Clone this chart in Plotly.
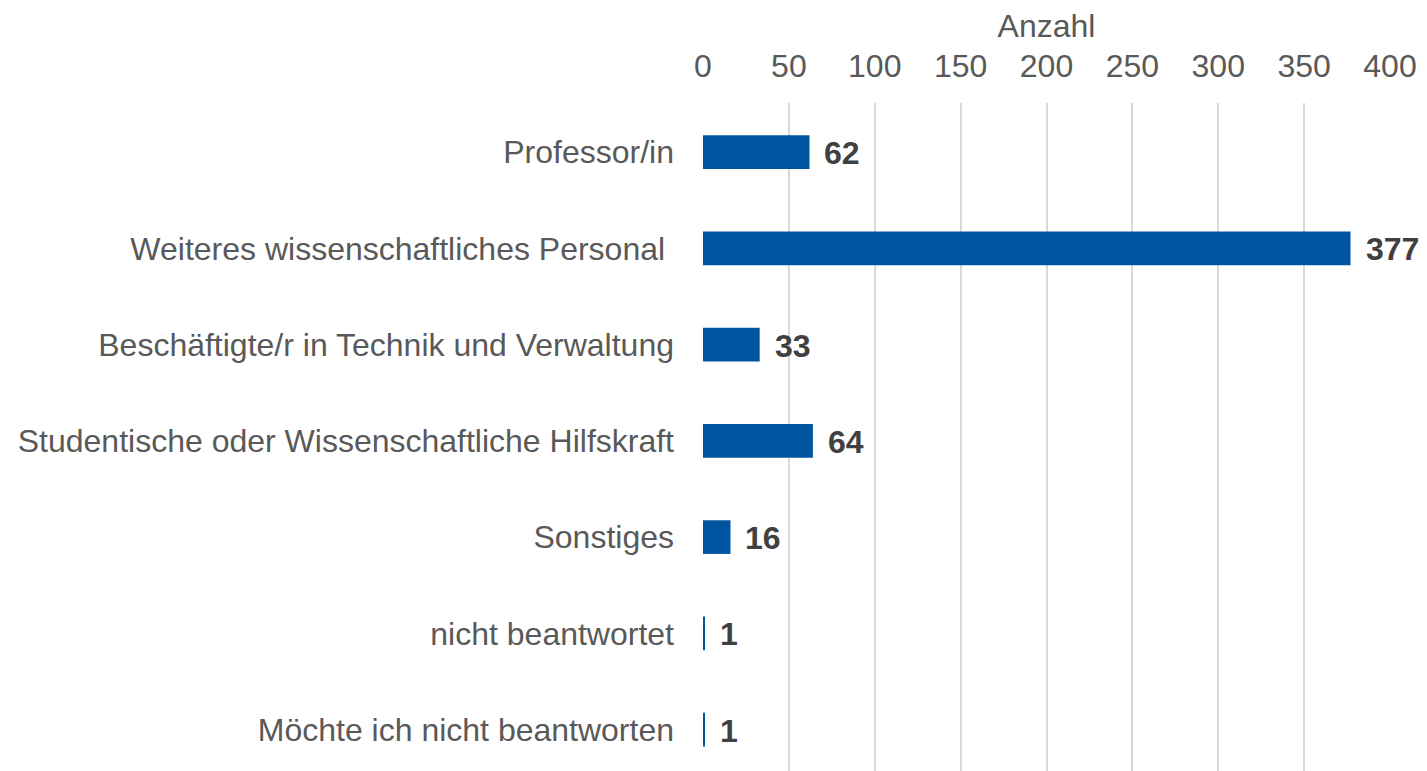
import plotly.graph_objects as go

categories = [
    "Professor/in",
    "Weiteres wissenschaftliches Personal ",
    "Beschäftigte/r in Technik und Verwaltung",
    "Studentische oder Wissenschaftliche Hilfskraft",
    "Sonstiges",
    "nicht beantwortet",
    "Möchte ich nicht beantworten",
]
values = [62, 377, 33, 64, 16, 1, 1]
x_ticks = [0, 50, 100, 150, 200, 250, 300, 350, 400]

FONT = "Liberation Sans, Arial, sans-serif"
GRAY = "#595959"
FS = 32

pos = list(range(len(categories)))

fig = go.Figure()
fig.add_trace(go.Bar(
    x=values, y=pos, orientation="h",
    width=0.35,
    marker=dict(color="#0055A0", line=dict(width=0)),
    hoverinfo="x+y",
))

for i, v in zip(pos, values):
    fig.add_annotation(
        x=v, y=i, xref="x", yref="y",
        text=f"<b>{v}</b>", showarrow=False,
        xanchor="left", yanchor="middle", xshift=13, yshift=-1,
        font=dict(family=FONT, size=FS, color="#404040"),
    )

fig.update_layout(
    width=1419, height=763,
    margin=dict(l=695, r=37, t=95, b=0),
    paper_bgcolor="white", plot_bgcolor="white",
    showlegend=False,
    font=dict(family=FONT, size=FS, color=GRAY),
    xaxis=dict(
        side="top", range=[0, 400],
        tickvals=x_ticks, ticktext=[str(t) for t in x_ticks],
        showgrid=True, gridcolor="#D9D9D9", gridwidth=2,
        zeroline=False, showline=False, ticks="",
        tickfont=dict(family=FONT, size=FS, color=GRAY),
        ticklabelstandoff=19,
        title=dict(text="Anzahl", font=dict(family=FONT, size=FS, color=GRAY), standoff=9),
    ),
    yaxis=dict(
        range=[6.43, -0.51],
        tickvals=pos, ticktext=categories,
        showgrid=False, zeroline=False, showline=False, ticks="",
        tickfont=dict(family=FONT, size=FS, color=GRAY),
        ticklabelstandoff=28,
    ),
)

fig.write_html("out.html")
